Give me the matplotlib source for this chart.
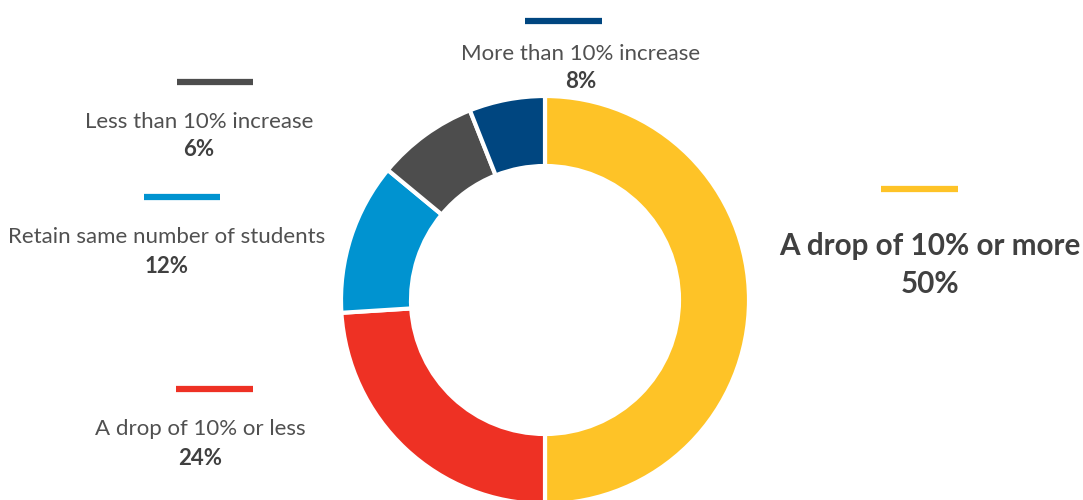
import matplotlib
matplotlib.use("Agg")
import matplotlib.pyplot as plt
from matplotlib.lines import Line2D

# ---- data ----
categories = ["A drop of 10% or more", "A drop of 10% or less",
              "Retain same number of students", "Less than 10% increase",
              "More than 10% increase"]
slice_values = [50, 24, 12, 8, 6]          # slice sizes as drawn
label_percents = ["50%", "24%", "12%", "6%", "8%"]  # percentages as printed
colors = ["#FEC327", "#EE3124", "#0093D0", "#4D4D4D", "#004680"]

# ---- layout (pixel coordinates, y measured from top) ----
W, H = 1083, 500
center = (545, 300)
radius = 204
ring_width = 70
# (line x0, line x1, line y, text x, name baseline, pct baseline, name size, pct size)
layout = [
    (881, 958, 189, 930, 255, 293, 21.3, 21.3),
    (176, 253, 389, 200, 435, 465, 16, 16),
    (144, 220, 197, 167, 243, 273, 16, 16),
    (177, 253, 82, 199, 128, 156, 16, 16),
    (525, 602, 21, 581, 60, 88, 16, 16),
]

plt.rcParams["font.family"] = ["Lato", "DejaVu Sans"]
fig = plt.figure(figsize=(W / 100, H / 100), dpi=100)
ax = fig.add_axes([0, 0, 1, 1])

# y axis is inverted, so a data-counterclockwise pie reads clockwise on screen
ax.pie(slice_values, colors=colors, startangle=-90, counterclock=True,
       center=center, radius=radius, frame=True,
       wedgeprops=dict(width=ring_width, edgecolor="white", linewidth=3))
ax.set_xlim(0, W)
ax.set_ylim(H, 0)
ax.set_aspect("equal")
ax.axis("off")

for i, (x0, x1, ly, tx, nb, pb, ns, ps) in enumerate(layout):
    ax.add_line(Line2D([x0, x1], [ly, ly], color=colors[i], linewidth=4.5,
                       solid_capstyle="butt"))
    bold_name = (i == 0)
    ax.text(tx, nb, categories[i], ha="center", va="baseline", fontsize=ns,
            color="#404040" if bold_name else "#505050",
            fontweight="bold" if bold_name else "normal")
    ax.text(tx, pb, label_percents[i], ha="center", va="baseline", fontsize=ps,
            color="#404040", fontweight="bold")

fig.savefig("out.png", dpi=100)
